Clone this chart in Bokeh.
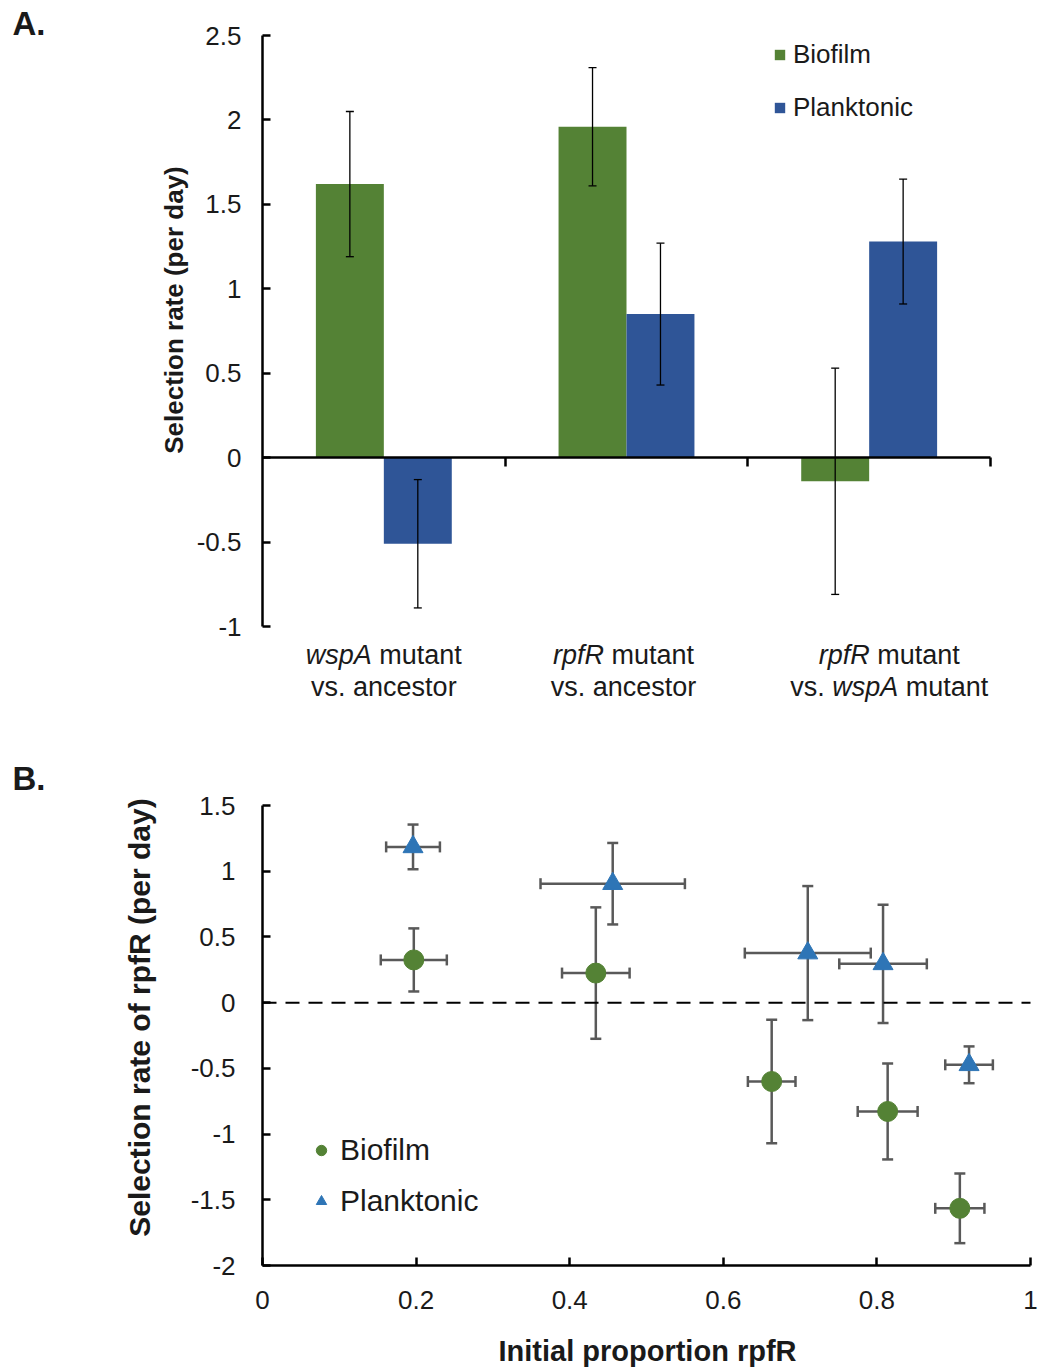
import math
from bokeh.plotting import figure
from bokeh.models import (ColumnDataSource, Whisker, TeeHead, Label, Legend,
                          LinearAxis, FixedTicker, NumeralTickFormatter, Range1d)
from bokeh.layouts import column
from bokeh.transform import dodge
from bokeh.embed import file_html
from bokeh.resources import INLINE

# ---------------- Data: panel A ----------------
group_pos = [0.5, 1.5, 2.5]
cat_line1 = [[("wspA", "italic"), ("mutant", "normal")],
             [("rpfR", "italic"), ("mutant", "normal")],
             [("rpfR", "italic"), ("mutant", "normal")]]
cat_line2 = [[("vs.", "normal"), ("ancestor", "normal")],
             [("vs.", "normal"), ("ancestor", "normal")],
             [("vs.", "normal"), ("wspA", "italic"), ("mutant", "normal")]]
biofilm_rate = [1.62, 1.96, -0.14]
biofilm_err = [0.43, 0.35, 0.67]
planktonic_rate = [-0.51, 0.85, 1.28]
planktonic_err = [0.38, 0.42, 0.37]
yA_ticks = [-1, -0.5, 0, 0.5, 1, 1.5, 2, 2.5]
xA_ticks = [1, 2, 3]

# ---------------- Data: panel B ----------------
bio_prop = [0.197, 0.434, 0.663, 0.814, 0.908]
bio_prop_err = [0.043, 0.044, 0.031, 0.039, 0.032]
bio_sel = [0.325, 0.225, -0.60, -0.828, -1.565]
bio_sel_err = [0.24, 0.50, 0.47, 0.365, 0.265]
plank_prop = [0.196, 0.456, 0.710, 0.808, 0.920]
plank_prop_err = [0.035, 0.094, 0.082, 0.057, 0.031]
plank_sel = [1.185, 0.905, 0.377, 0.295, -0.473]
plank_sel_err = [0.17, 0.31, 0.51, 0.45, 0.14]
yB_ticks = [-2, -1.5, -1, -0.5, 0, 0.5, 1, 1.5]
xB_ticks = [0, 0.2, 0.4, 0.6, 0.8, 1]

FONT = "Liberation Sans"
GREEN = "#548235"
BLUE = "#2F5597"
TRI_BLUE = "#2E75B6"
ERR_GRAY = "#595959"
TXT = "#1a1a1a"

W = 1040
HA = 740
HB = 630

# Arial / Liberation Sans advance widths (em)
CW = {'w': .722, 's': .5, 'p': .556, 'A': .667, ' ': .278, 'm': .833, 'u': .556,
      't': .278, 'a': .556, 'n': .556, 'v': .5, '.': .278, 'c': .5, 'e': .556,
      'o': .556, 'r': .333, 'f': .278, 'R': .722}


def tw(s, fs):
    return sum(CW.get(ch, .556) for ch in s) * fs


def style_axis(ax, label_size):
    ax.axis_line_width = 2.5
    ax.axis_line_color = "black"
    ax.major_tick_line_width = 2.5
    ax.major_tick_line_color = "black"
    ax.major_tick_in = 8
    ax.major_tick_out = 0
    ax.minor_tick_line_color = None
    ax.major_label_text_font = FONT
    ax.major_label_text_font_size = label_size
    ax.major_label_text_color = TXT


class PxMap:
    """pixel <-> data mapping for a frame that fills the whole canvas"""
    def __init__(self, x0_px, x1_px, x0, x1, y0_px, y1_px, y0, y1):
        self.kx = (x1 - x0) / (x1_px - x0_px)
        self.ky = (y1 - y0) / (y1_px - y0_px)
        self.x0_px, self.x0 = x0_px, x0
        self.y0_px, self.y0 = y0_px, y0

    def x(self, px):
        return self.x0 + (px - self.x0_px) * self.kx

    def y(self, py):
        return self.y0 + (py - self.y0_px) * self.ky


# ================= Panel A =================
# axis 0..3 spans page px 262..990, value 2.5 at y=35, -1 at y=626
mA = PxMap(262, 990, 0, 3, 35, 626, 2.5, -1)
pA = figure(width=W, height=HA,
            x_range=Range1d(mA.x(0), mA.x(W)), y_range=Range1d(mA.y(HA), mA.y(0)),
            x_axis_location=None, y_axis_location=None,
            output_backend="svg", toolbar_location=None,
            min_border=0, min_border_left=0, min_border_right=0,
            min_border_top=0, min_border_bottom=0)
pA.grid.visible = False
pA.outline_line_color = None
pA.background_fill_color = "white"
pA.border_fill_color = "white"

yA = LinearAxis(fixed_location=0, bounds=(yA_ticks[0], yA_ticks[-1]),
                ticker=FixedTicker(ticks=yA_ticks), formatter=NumeralTickFormatter(format="0.[0]"))
style_axis(yA, "26px")
yA.major_label_standoff = 21
pA.add_layout(yA, "left")

xA = LinearAxis(fixed_location=0, bounds=(0, xA_ticks[-1]), ticker=FixedTicker(ticks=xA_ticks))
style_axis(xA, "0px")
xA.major_tick_in = 0
xA.major_tick_out = 9
xA.major_label_text_alpha = 0
pA.add_layout(xA, "below")

srcA = ColumnDataSource(dict(
    x=group_pos,
    bio=biofilm_rate,
    bio_hi=[v + e for v, e in zip(biofilm_rate, biofilm_err)],
    bio_lo=[v - e for v, e in zip(biofilm_rate, biofilm_err)],
    pl=planktonic_rate,
    pl_hi=[v + e for v, e in zip(planktonic_rate, planktonic_err)],
    pl_lo=[v - e for v, e in zip(planktonic_rate, planktonic_err)],
))
rb = pA.vbar(x=dodge("x", -0.14), top="bio", bottom=0, width=0.28, source=srcA,
             fill_color=GREEN, line_color=None)
rp = pA.vbar(x=dodge("x", 0.14), top="pl", bottom=0, width=0.28, source=srcA,
             fill_color=BLUE, line_color=None)

for base, hi, lo in ((dodge("x", -0.14), "bio_hi", "bio_lo"), (dodge("x", 0.14), "pl_hi", "pl_lo")):
    pA.add_layout(Whisker(source=srcA, base=base, upper=hi, lower=lo, dimension="height",
                          line_color="black", line_width=1.3, level="overlay",
                          upper_head=TeeHead(size=8, line_color="black", line_width=1.3),
                          lower_head=TeeHead(size=8, line_color="black", line_width=1.3)))

legA = Legend(items=[("Biofilm", [rb]), ("Planktonic", [rp])], location=(773, 617),
              glyph_width=13, glyph_height=13, label_text_font=FONT, label_text_font_size="26px",
              label_text_color=TXT, label_height=30, spacing=22, padding=0, margin=0,
              label_standoff=7, background_fill_alpha=0, border_line_color=None)
pA.add_layout(legA)

# category labels (mixed italic / roman)
fs_cat = 27
cat_shift = [0, -3, 20]
for gi, gx in enumerate(group_pos):
    for lines, py in ((cat_line1, 654), (cat_line2, 686)):
        pieces = lines[gi]
        sp = tw(" ", fs_cat)
        total = sum(tw(t, fs_cat) for t, _ in pieces) + sp * (len(pieces) - 1)
        off = -total / 2 + cat_shift[gi]
        for t, style in pieces:
            pA.add_layout(Label(x=gx, y=mA.y(py), x_offset=off, text=t, text_align="left",
                                text_baseline="middle", text_font=FONT,
                                text_font_size=f"{fs_cat}px", text_font_style=style,
                                text_color=TXT))
            off += tw(t, fs_cat) + sp

pA.add_layout(Label(x=mA.x(173), y=mA.y(309.5), text="Selection rate (per day)",
                    angle=math.pi / 2, text_align="center", text_baseline="middle",
                    text_font=FONT, text_font_size="26px", text_font_style="bold",
                    text_color=TXT))
pA.add_layout(Label(x=mA.x(12), y=mA.y(23), text="A.", text_align="left",
                    text_baseline="middle", text_font=FONT, text_font_size="33px",
                    text_font_style="bold", text_color=TXT))

# ================= Panel B =================
# canvas of panel B starts at page y=740; axis 0..1 spans page px 262..1030,
# value 1.5 at page y=805, -2 at page y=1265
mB = PxMap(262, 1030, 0, 1, 805 - HA, 1265 - HA, 1.5, -2)
pB = figure(width=W, height=HB,
            x_range=Range1d(mB.x(0), mB.x(W)), y_range=Range1d(mB.y(HB), mB.y(0)),
            x_axis_location=None, y_axis_location=None,
            output_backend="svg", toolbar_location=None,
            min_border=0, min_border_left=0, min_border_right=0,
            min_border_top=0, min_border_bottom=0)
pB.grid.visible = False
pB.outline_line_color = None
pB.background_fill_color = "white"
pB.border_fill_color = "white"

yB = LinearAxis(fixed_location=xB_ticks[0], bounds=(yB_ticks[0], yB_ticks[-1]),
                ticker=FixedTicker(ticks=yB_ticks), formatter=NumeralTickFormatter(format="0.[0]"))
style_axis(yB, "26px")
yB.major_label_standoff = 27
pB.add_layout(yB, "left")

xB = LinearAxis(fixed_location=yB_ticks[0], bounds=(xB_ticks[0], xB_ticks[-1]),
                ticker=FixedTicker(ticks=xB_ticks), formatter=NumeralTickFormatter(format="0.[0]"))
style_axis(xB, "26px")
xB.major_label_standoff = 25
pB.add_layout(xB, "below")

srcBio = ColumnDataSource(dict(
    x=bio_prop, y=bio_sel,
    x_lo=[v - e for v, e in zip(bio_prop, bio_prop_err)],
    x_hi=[v + e for v, e in zip(bio_prop, bio_prop_err)],
    y_lo=[v - e for v, e in zip(bio_sel, bio_sel_err)],
    y_hi=[v + e for v, e in zip(bio_sel, bio_sel_err)],
))
srcPl = ColumnDataSource(dict(
    x=plank_prop, y=plank_sel,
    x_lo=[v - e for v, e in zip(plank_prop, plank_prop_err)],
    x_hi=[v + e for v, e in zip(plank_prop, plank_prop_err)],
    y_lo=[v - e for v, e in zip(plank_sel, plank_sel_err)],
    y_hi=[v + e for v, e in zip(plank_sel, plank_sel_err)],
))

for src in (srcBio, srcPl):
    for dim, base, hi, lo in (("height", "x", "y_hi", "y_lo"), ("width", "y", "x_hi", "x_lo")):
        pB.add_layout(Whisker(source=src, base=base, upper=hi, lower=lo, dimension=dim,
                              line_color=ERR_GRAY, line_width=2.5, level="underlay",
                              upper_head=TeeHead(size=11, line_color=ERR_GRAY, line_width=2.5),
                              lower_head=TeeHead(size=11, line_color=ERR_GRAY, line_width=2.5)))

# zero reference line across the x-axis extent
pB.segment(x0=[xB_ticks[0]], x1=[xB_ticks[-1]], y0=[0], y1=[0],
           line_color="black", line_width=2, line_dash="14 9")

rc = pB.scatter("x", "y", source=srcBio, marker="circle", size=20,
                fill_color=GREEN, line_color=GREEN)
rt = pB.scatter("x", "y", source=srcPl, marker="triangle", size=20,
                fill_color=TRI_BLUE, line_color=TRI_BLUE)

legB = Legend(items=[("Biofilm", [rc]), ("Planktonic", [rt])], location=(308, 151),
              glyph_width=26, glyph_height=26, label_text_font=FONT, label_text_font_size="30px",
              label_text_color=TXT, label_height=36, spacing=15, padding=0, margin=0,
              label_standoff=6, background_fill_alpha=0, border_line_color=None)
pB.add_layout(legB)

pB.add_layout(Label(x=mB.x(139), y=mB.y(1017 - HA), text="Selection rate of rpfR (per day)",
                    angle=math.pi / 2, text_align="center", text_baseline="middle",
                    text_font=FONT, text_font_size="30px", text_font_style="bold",
                    text_color=TXT))
pB.add_layout(Label(x=mB.x(647), y=mB.y(1350 - HA), text="Initial proportion rpfR",
                    text_align="center", text_baseline="middle",
                    text_font=FONT, text_font_size="29px", text_font_style="bold",
                    text_color=TXT))
pB.add_layout(Label(x=mB.x(12), y=mB.y(778 - HA), text="B.", text_align="left",
                    text_baseline="middle", text_font=FONT, text_font_size="33px",
                    text_font_style="bold", text_color=TXT))

layout = column(pA, pB, spacing=0)
open("out.html", "w").write(file_html(layout, INLINE))
